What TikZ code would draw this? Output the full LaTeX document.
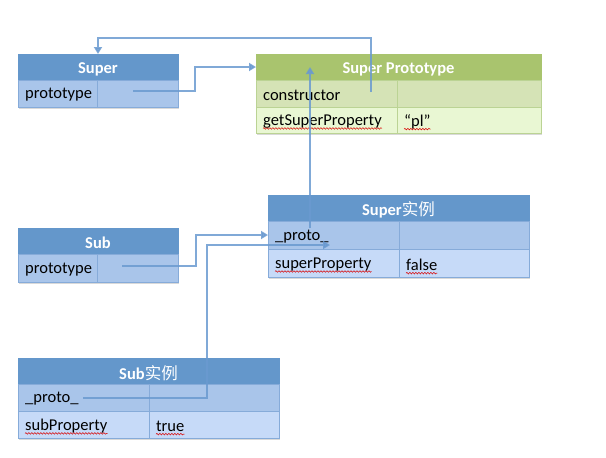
\documentclass[tikz,border=0pt]{standalone}
\usepackage{fontspec}
\setmainfont{Carlito}
\newfontfamily\cjk{Noto Sans CJK SC}
\usetikzlibrary{arrows.meta,decorations.pathmorphing,shadows}
\definecolor{bh}{HTML}{6497CB}
\definecolor{br1}{HTML}{A9C5EA}
\definecolor{br2}{HTML}{C6DAF8}
\definecolor{bl}{HTML}{86ABD9}
\definecolor{gh}{HTML}{A9C46E}
\definecolor{gr1}{HTML}{D5E3B6}
\definecolor{gr2}{HTML}{E9F7D3}
\definecolor{gl}{HTML}{BBD394}
\definecolor{cn}{HTML}{6A9AD0}
\newcommand\mycell[7]{\node[cellbox, fill=#6, draw=#7, minimum width=#4pt, minimum height=#5pt] (#1) at (#2,#3) {};}
\newcommand\myshadow[5]{\node[shadowbox, minimum width=#4pt, minimum height=#5pt] (#1) at (#2,#3) {};}
\tikzset{
  cellbox/.style={rectangle, inner sep=0pt, outer sep=0pt, anchor=north west, line width=0.8pt},
  shadowbox/.style={rectangle, inner sep=0pt, outer sep=0pt, anchor=north west, fill=white,
    drop shadow={shadow xshift=1pt, shadow yshift=-2pt, opacity=0.25, fill=black!60}},
  hdr/.style={inner sep=0pt, text=white, yshift=-2pt, font=\fontsize{16.5}{19}\selectfont\bfseries},
  txt/.style={anchor=west, inner sep=0pt, yshift=-1.5pt, font=\fontsize{16.5}{19}\selectfont},
  squig/.style={draw=red!85!black, line width=0.5pt, decorate,
    decoration={snake, amplitude=0.8pt, segment length=3pt}},
  conn/.style={draw=cn, line width=2.5pt, opacity=0.85, -{Triangle[length=7pt,width=8pt]}}
}
\begin{document}
\begin{tikzpicture}[x=1pt, y=-1pt]
\useasboundingbox (0,0) rectangle (606,458);
% shadows
\myshadow{s1}{18}{54}{160}{53}
\myshadow{s2}{256}{54}{285}{79}
\myshadow{s3}{268}{195}{261}{82}
\myshadow{s4}{18}{228}{160}{54}
\myshadow{s5}{18}{358}{261}{80}
% Super
\mycell{suph}{18}{54}{160}{26}{bh}{bh}
\mycell{supk}{18}{80}{79}{27}{br1}{bl}
\mycell{supv}{97}{80}{81}{27}{br1}{bl}
\node[hdr] (supt) at (suph.center) {Super};
\node[txt] (supkt) at ([xshift=7pt]supk.west) {prototype};
% Super Prototype
\mycell{sph}{256}{54}{285}{26}{gh}{gh}
\mycell{spk1}{256}{80}{141}{27}{gr1}{gl}
\mycell{spv1}{397}{80}{144}{27}{gr1}{gl}
\mycell{spk2}{256}{107}{141}{26}{gr2}{gl}
\mycell{spv2}{397}{107}{144}{26}{gr2}{gl}
\node[hdr] (spt) at (sph.center) {Super Prototype};
\node[txt] (spk1t) at ([xshift=7pt]spk1.west) {constructor};
\node[txt] (spk2t) at ([xshift=7pt]spk2.west) {getSuperProperty};
\node[txt] (spv2t) at ([xshift=7pt]spv2.west) {“pl”};
% Super instance
\mycell{sih}{268}{195}{261}{26}{bh}{bh}
\mycell{sik1}{268}{221}{131}{28}{br1}{bl}
\mycell{siv1}{399}{221}{130}{28}{br1}{bl}
\mycell{sik2}{268}{249}{131}{28}{br2}{bl}
\mycell{siv2}{399}{249}{130}{28}{br2}{bl}
\node[hdr] (sit) at (sih.center) {Super{\cjk\mdseries 实例}};
\node[txt] (sik1t) at ([xshift=7pt]sik1.west) {\_proto\_};
\node[txt] (sik2t) at ([xshift=7pt]sik2.west) {superProperty};
\node[txt] (siv2t) at ([xshift=7pt]siv2.west) {false};
% Sub
\mycell{subh}{18}{228}{160}{26}{bh}{bh}
\mycell{subk}{18}{254}{79}{28}{br1}{bl}
\mycell{subv}{97}{254}{81}{28}{br1}{bl}
\node[hdr] (subt) at (subh.center) {Sub};
\node[txt] (subkt) at ([xshift=7pt]subk.west) {prototype};
% Sub instance
\mycell{sbih}{18}{358}{261}{26}{bh}{bh}
\mycell{sbik1}{18}{384}{131}{27}{br1}{bl}
\mycell{sbiv1}{149}{384}{130}{27}{br1}{bl}
\mycell{sbik2}{18}{411}{131}{27}{br2}{bl}
\mycell{sbiv2}{149}{411}{130}{27}{br2}{bl}
\node[hdr] (sbit) at (sbih.center) {Sub{\cjk\mdseries 实例}};
\node[txt] (sbik1t) at ([xshift=7pt]sbik1.west) {\_proto\_};
\node[txt] (sbik2t) at ([xshift=7pt]sbik2.west) {subProperty};
\node[txt] (sbiv2t) at ([xshift=7pt]sbiv2.west) {true};
% spell-check underlines
\foreach \t in {spk2t,spv2t,sik2t,siv2t,sbik2t,sbiv2t}
  \draw[squig] ([yshift=-3pt]\t.base west) -- ([yshift=-3pt]\t.base east);
% connector anchors
\coordinate (c1) at (133,91);
\coordinate (c2) at (371,92);
\coordinate (c3) at (310,228);
\coordinate (c4) at (122,266);
\coordinate (c5) at (83,398);
\coordinate (t5) at (330,245);
% connectors
\draw[conn] (c1) -- (195,91) |- (sph.west);
\draw[conn] (c2) -- (371,38) -| (suph.north);
\draw[conn] (c3) -- (c3 |- sph.center);
\draw[conn] (c4) -- (196,266) |- (sik1.west);
\draw[conn] (c5) -- (207,398) |- (t5);
\end{tikzpicture}
\end{document}
